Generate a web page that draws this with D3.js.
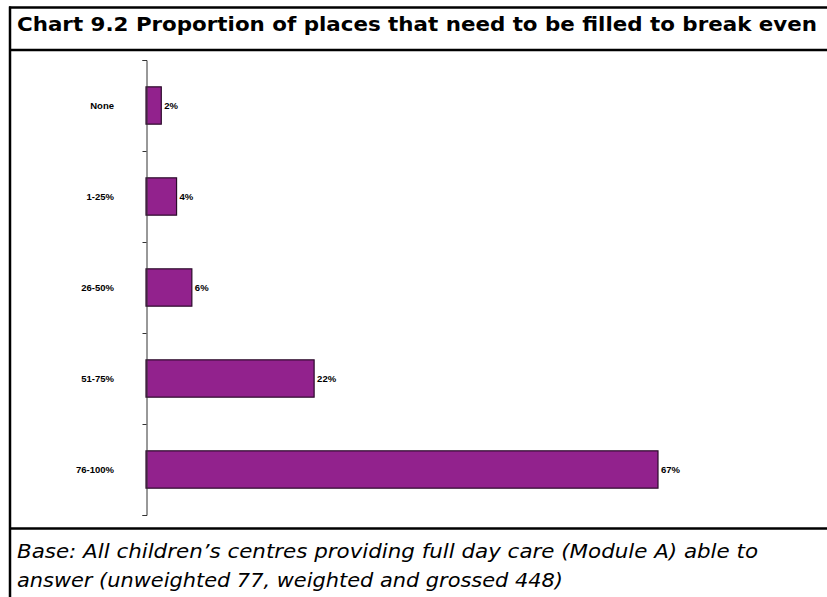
<!DOCTYPE html>
<html>
<head>
<meta charset="utf-8">
<script src="https://cdn.jsdelivr.net/npm/d3@7"></script>
<style>
  body { margin: 0; background: #fff; }
  svg { display: block; }
</style>
</head>
<body>
<svg id="chart" width="827" height="597"></svg>
<script>
// chart data
const categories = ['None', '1-25%', '26-50%', '51-75%', '76-100%']
const values = [2, 4, 6, 22, 67]
const valueLabels = ['2%', '4%', '6%', '22%', '67%']

const titleText = 'Chart 9.2 Proportion of places that need to be filled to break even'
const baseLines = [
  'Base: All children\u2019s centres providing full day care (Module A) able to',
  'answer (unweighted 77, weighted and grossed 448)'
]
const baseWidths = [741, 546]

const svg = d3.select('#chart')

// frame lines
const frame = svg.append('g').attr('stroke', '#000').attr('stroke-width', 2.5)
frame.append('line').attr('x1', 9).attr('x2', 827).attr('y1', 7.5).attr('y2', 7.5)
frame.append('line').attr('x1', 9).attr('x2', 827).attr('y1', 50).attr('y2', 50)
frame.append('line').attr('x1', 9).attr('x2', 827).attr('y1', 528.5).attr('y2', 528.5)
frame.append('line').attr('x1', 10).attr('x2', 10).attr('y1', 6.5).attr('y2', 597)

// title
svg.append('text')
  .attr('x', 17)
  .attr('y', 31)
  .attr('font-family', 'DejaVu Sans')
  .attr('font-weight', 'bold')
  .attr('font-size', 20)
  .attr('textLength', 800)
  .attr('lengthAdjust', 'spacingAndGlyphs')
  .text(titleText)

// base note
svg.selectAll('.base')
  .data(baseLines)
  .enter().append('text')
  .attr('class', 'base')
  .attr('x', 17)
  .attr('y', (d, i) => 558 + i * 29)
  .attr('font-family', 'DejaVu Sans')
  .attr('font-style', 'italic')
  .attr('font-size', 19)
  .attr('textLength', (d, i) => baseWidths[i])
  .attr('lengthAdjust', 'spacingAndGlyphs')
  .text(d => d)

// scales
const x = d3.scaleLinear()
  .domain([0, 67])
  .range([146, 658])

const y = d3.scaleBand()
  .domain(categories)
  .range([60, 515])
  .paddingInner(0.59)
  .paddingOuter(0.295)

const data = categories.map((c, i) => ({ cat: c, val: values[i], label: valueLabels[i] }))

// bars
svg.append('g').selectAll('rect')
  .data(data)
  .enter().append('rect')
  .attr('x', x(0))
  .attr('y', d => y(d.cat))
  .attr('width', d => x(d.val) - x(0))
  .attr('height', y.bandwidth())
  .attr('fill', '#92228d')
  .attr('stroke', '#2b0a2a')
  .attr('stroke-width', 1.2)

// value labels
svg.append('g').selectAll('text')
  .data(data)
  .enter().append('text')
  .attr('x', d => x(d.val) + 3)
  .attr('y', d => y(d.cat) + y.bandwidth() / 2 + 3.5)
  .attr('font-family', 'Liberation Sans')
  .attr('font-weight', 'bold')
  .attr('font-size', 9.5)
  .text(d => d.label)

// category axis
const outer = d3.scaleLinear().domain([0, categories.length]).range([60, 515])
const axis = svg.append('g')
  .attr('transform', 'translate(146.5,0)')
  .call(d3.axisLeft(outer)
    .tickValues(d3.range(0, categories.length + 1))
    .tickSize(4)
    .tickFormat(''))
axis.select('.domain').attr('stroke', '#333')
axis.selectAll('.tick line').attr('stroke', '#333')

svg.append('g').selectAll('text')
  .data(categories)
  .enter().append('text')
  .attr('x', 114)
  .attr('y', d => y(d) + y.bandwidth() / 2 + 3.5)
  .attr('text-anchor', 'end')
  .attr('font-family', 'Liberation Sans')
  .attr('font-weight', 'bold')
  .attr('font-size', 9.5)
  .text(d => d)
</script>
</body>
</html>
